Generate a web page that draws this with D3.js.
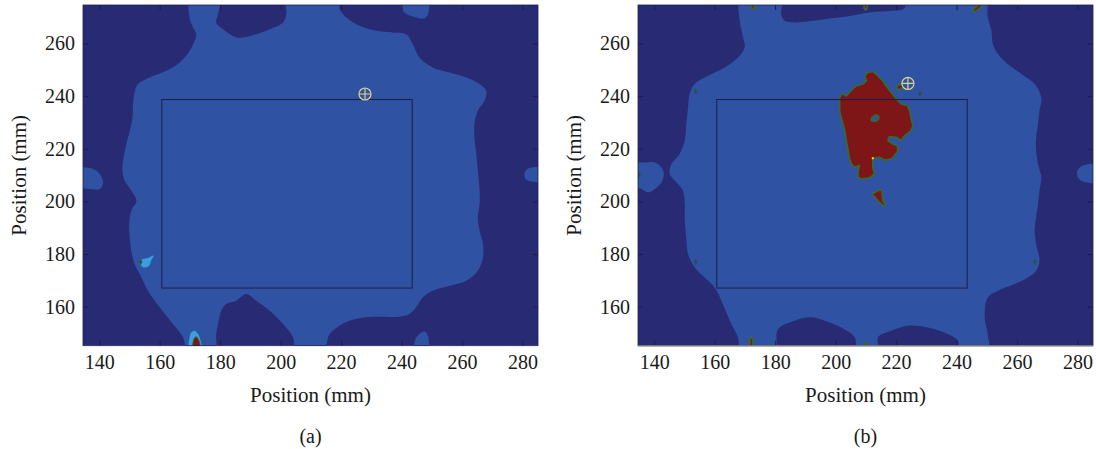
<!DOCTYPE html>
<html>
<head>
<meta charset="utf-8">
<script src="https://cdn.jsdelivr.net/npm/d3@7"></script>
<style>
  body { margin: 0; background: #fff; }
  svg { display: block; }
  text { font-family: "Liberation Serif", "DejaVu Serif", serif; fill: #1a1a1a; }
</style>
</head>
<body>
<svg id="chart" width="1096" height="449"></svg>
<script>
// axis limits and ticks (mm)
const xDomain = [134.65, 285.1];
const yDomain = [145.2, 274.6];
const xTicks = [140, 160, 180, 200, 220, 240, 260, 280];
const yTicks = [160, 180, 200, 220, 240, 260];

// measurement window drawn on both maps
const windowBox = [[160.7, 167.1], [243.5, 238.7]];

// ---- panel (a) contours ----
const blueA = [
  [170.1, 277], [169.9, 269.9], [171.0, 266.1], [172.1, 263.5], [169.9, 257.2], [166.6, 252.8],
  [162.2, 249.6], [156.7, 247.1], [152.8, 244.6], [151.7, 241.4], [151.2, 237.0], [151.0, 231.9],
  [150.1, 226.8], [149.0, 221.8], [147.9, 215.4], [147.7, 211.6], [148.4, 207.9], [150.6, 204.1],
  [152.3, 200.3], [150.6, 196.5], [149.9, 191.4], [150.1, 186.3], [150.6, 181.3], [151.7, 176.2],
  [153.4, 172.4], [156.1, 166.1], [160.0, 159.8], [164.4, 153.4], [167.7, 148.4], [169.4, 143],
  [178.2, 143], [178.7, 149.6], [179.3, 153.4], [180.4, 158.5], [182.0, 161.0], [185.3, 162.3],
  [188.6, 164.8], [191.9, 162.3], [196.4, 158.5], [200.8, 153.4], [204.1, 148.4], [205.2, 143],
  [214.0, 143], [216.2, 149.6], [219.5, 152.8], [222.8, 154.7], [228.3, 156.0], [233.8, 156.2],
  [239.3, 156.2], [242.6, 157.2], [244.8, 159.8], [247.0, 163.5], [250.3, 166.1], [255.9, 168.0],
  [261.4, 169.9], [265.2, 173.7], [266.9, 178.7], [266.9, 183.8], [265.8, 188.9], [265.2, 193.9],
  [265.8, 199.0], [265.8, 204.1], [265.2, 211.6], [264.7, 218.0], [264.1, 224.3], [264.1, 229.4],
  [265.2, 234.4], [267.4, 238.2], [268.0, 242.0], [265.8, 244.6], [261.4, 247.1], [255.9, 249.0],
  [250.3, 250.9], [245.9, 254.7], [243.7, 259.7], [241.5, 263.5], [237.1, 264.2], [231.6, 264.8],
  [226.1, 266.7], [221.7, 269.9], [219.5, 273.0], [218.9, 277], [202.1, 277], [201.9, 271.1],
  [200.8, 268.0], [196.4, 265.4], [191.9, 263.5], [187.5, 262.3], [185.3, 262.3], [180.9, 265.4],
  [178.7, 268.0], [179.3, 271.1], [179.8, 277]
];
const blueIslandsA = [
  [[240.2, 277], [240.4, 272.4], [242.1, 270.9], [244.8, 269.9], [247.6, 269.6], [248.7, 271.1], [248.7, 277]],
  [[132, 212.3], [138.0, 212.3], [140.2, 210.4], [141.3, 207.2], [140.2, 204.7], [137.4, 204.7], [132, 206.0]],
  [[288, 212.3], [282.3, 212.7], [280.7, 211.0], [281.0, 208.5], [282.9, 207.6], [288, 207.9]],
  [[244.3, 143], [244.6, 147.7], [245.9, 149.6], [247.6, 150.6], [248.7, 149.0], [249.0, 146.4], [248.7, 143]]
];
const cyanA = [
  [[153.2, 177.2], [154.5, 178.1], [156.1, 178.5], [158.0, 179.4], [157.2, 177.5], [156.5, 175.6], [155.0, 174.9], [153.9, 175.6]],
  [[169.9, 143], [169.9, 148.4], [170.5, 150.3], [171.6, 150.9], [172.7, 149.6], [173.4, 147.7], [173.9, 143]]
];
const redA = [
  [[171.2, 143], [171.3, 147.7], [172.1, 148.6], [173.0, 147.1], [173.4, 143]]
];
const specksA = [[153.7, 177.0]];
const markerA = [227.9, 240.8];

// ---- panel (b) contours ----
const blueB = [
  [168.6, 277], [168.3, 268.6], [169.4, 262.3], [169.9, 258.5], [167.7, 254.7], [163.3, 250.9],
  [157.8, 247.7], [153.4, 244.6], [151.7, 240.8], [151.2, 235.7], [150.6, 229.4], [150.1, 223.1],
  [148.4, 218.0], [145.7, 214.2], [145.1, 210.4], [146.8, 207.9], [149.5, 204.1], [150.1, 199.0],
  [150.1, 192.7], [150.6, 186.3], [151.2, 180.0], [153.4, 174.9], [156.7, 171.1], [160.0, 167.3],
  [162.7, 161.0], [165.5, 153.4], [167.7, 148.4], [168.8, 143], [179.8, 143], [180.9, 151.4],
  [186.4, 154.7], [191.9, 156.0], [196.4, 154.7], [203.0, 151.4], [206.3, 148.4], [207.4, 143],
  [214.0, 143], [214.0, 148.4], [218.4, 150.9], [223.9, 152.8], [230.5, 152.1], [237.1, 149.6],
  [240.4, 147.1], [241.0, 143], [250.3, 143], [250.3, 149.6], [249.3, 156.0], [250.3, 163.5],
  [253.7, 166.1], [259.2, 168.6], [263.6, 171.1], [266.3, 173.7], [267.4, 177.5], [266.3, 183.8],
  [265.8, 188.9], [266.3, 193.9], [266.9, 199.0], [267.4, 204.1], [268.0, 209.1], [266.9, 214.2],
  [266.3, 219.2], [266.3, 224.3], [266.9, 229.4], [267.4, 234.4], [268.0, 239.5], [265.8, 244.6],
  [261.4, 248.4], [257.0, 252.1], [253.7, 256.0], [252.0, 259.7], [251.5, 264.8], [250.3, 269.9],
  [249.3, 277], [223.4, 277], [222.8, 273.4], [218.4, 272.4], [211.8, 271.8], [205.2, 270.5],
  [196.4, 269.2], [186.4, 268.0], [183.1, 268.6], [182.0, 271.1], [182.0, 277]
];
const blueIslandsB = [
  [[132, 214.2], [136.9, 214.8], [140.2, 214.8], [142.4, 212.9], [143.2, 210.4], [142.4, 207.2],
   [140.2, 204.7], [138.0, 203.4], [135.8, 204.7], [132, 206.6]],
  [[288, 213.6], [281.8, 213.6], [279.9, 211.6], [280.1, 209.1], [281.8, 207.6], [288, 207.6]]
];
const redB = [
  [[210.7, 249.0], [212.3, 249.4], [214.0, 247.7], [215.6, 245.8], [216.7, 243.9], [218.4, 241.4],
   [220.1, 238.9], [221.7, 237.0], [223.9, 236.3], [224.5, 234.4], [225.0, 231.3], [225.6, 228.7],
   [224.8, 226.8], [222.8, 224.9], [221.7, 223.1], [220.1, 224.3], [217.8, 224.6], [217.3, 223.1],
   [218.9, 221.8], [220.4, 221.2], [220.6, 219.2], [219.5, 217.3], [218.4, 216.1], [216.2, 215.7],
   [214.5, 216.7], [212.9, 216.4], [212.3, 216.1], [212.3, 212.9], [212.9, 210.4], [211.2, 208.9],
   [208.5, 208.5], [207.4, 209.1], [207.4, 211.6], [207.9, 213.6], [206.3, 212.9], [205.2, 214.2],
   [204.6, 216.1], [204.1, 219.2], [203.5, 223.1], [203.0, 226.8], [202.1, 230.6], [201.3, 234.4],
   [201.3, 239.5], [202.1, 241.0], [203.5, 240.1], [205.2, 242.3], [206.8, 243.9], [209.0, 244.6],
   [210.1, 245.8], [209.6, 247.7]],
  [[212.1, 202.8], [214.5, 204.4], [215.3, 204.1], [215.6, 200.3], [216.4, 199.0], [216.0, 198.1],
   [214.5, 199.6], [212.9, 201.6]],
  [[220.1, 243.5], [221.2, 244.6], [222.3, 243.9], [221.9, 242.7], [220.6, 242.4]],
  [[172.3, 277], [172.2, 273.3], [172.7, 272.6], [173.2, 273.3], [173.1, 277]],
  [[209.5, 277], [209.4, 273.4], [209.9, 272.7], [210.4, 273.4], [210.3, 277]],
  [[245.2, 272.6], [245.8, 271.9], [247.3, 273.0], [248.9, 274.8], [248.3, 275.4], [246.6, 274.1]],
  [[171.6, 143], [171.6, 147.6], [172.1, 148.6], [172.7, 147.6], [172.7, 143]],
  [[209.4, 143], [209.5, 145.8], [209.9, 146.4], [210.3, 145.8], [210.4, 143]]
];
const holesB = [
  [[211.8, 230.8], [212.3, 232.1], [213.8, 232.7], [214.3, 231.8], [213.4, 230.6]]
];
const specksB = [[153.7, 241.8], [153.7, 177.1], [265.9, 177.1], [227.9, 241.0], [135.0, 210.1]];
const hotB = [[212.3, 216.4]];
const markerB = [223.9, 244.8];

const colors = {
  navy: "#282a73",
  blue: "#3052a2",
  cyan: "#3a9fdc",
  red: "#7e1517",
  edge: "#35693a",
  speck: "#2d4f4a",
  marker: "#dcd28e"
};

const svg = d3.select("#chart");
const plotTop = 5, plotBottom = 345.7, plotW = 455;
const serif = '"Liberation Serif", "DejaVu Serif", serif';

const panels = [
  { id: "a", left: 83, label: "(a)", blue: blueA, islands: blueIslandsA, cyan: cyanA, red: redA,
    holes: [], specks: specksA, hot: [], marker: markerA, bottomLine: false },
  { id: "b", left: 638, label: "(b)", blue: blueB, islands: blueIslandsB, cyan: [], red: redB,
    holes: holesB, specks: specksB, hot: hotB, marker: markerB, bottomLine: true }
];

panels.forEach((p) => {
  const x = d3.scaleLinear().domain(xDomain).range([p.left, p.left + plotW]);
  const y = d3.scaleLinear().domain(yDomain).range([plotBottom, plotTop]);

  const smooth = d3.line().x((d) => x(d[0])).y((d) => y(d[1])).curve(d3.curveCatmullRomClosed.alpha(0.5));
  const jagged = d3.line().x((d) => x(d[0])).y((d) => y(d[1])).curve(d3.curveLinearClosed);

  svg.append("clipPath").attr("id", "clip-" + p.id)
    .append("rect")
    .attr("x", p.left).attr("y", plotTop)
    .attr("width", plotW).attr("height", plotBottom - plotTop);

  const g = svg.append("g").attr("clip-path", `url(#clip-${p.id})`);

  // lowest level
  g.append("rect")
    .attr("x", p.left).attr("y", plotTop)
    .attr("width", plotW).attr("height", plotBottom - plotTop)
    .attr("fill", colors.navy);

  // second level
  [p.blue, ...p.islands].forEach((poly) => {
    g.append("path").attr("d", smooth(poly)).attr("fill", colors.blue);
  });

  p.cyan.forEach((poly) => {
    g.append("path").attr("d", smooth(poly)).attr("fill", colors.cyan);
  });

  // top level (a: smooth, b: pixel-ish edges)
  p.red.forEach((poly) => {
    g.append("path")
      .attr("d", p.id === "a" ? smooth(poly) : jagged(poly))
      .attr("fill", colors.red)
      .attr("stroke", colors.edge)
      .attr("stroke-width", p.id === "a" ? 1 : 1.8)
      .attr("stroke-linejoin", "round");
  });

  p.holes.forEach((poly) => {
    g.append("path").attr("d", smooth(poly))
      .attr("fill", colors.blue)
      .attr("stroke", colors.edge)
      .attr("stroke-width", 1.8);
  });

  g.selectAll(".speck")
    .data(p.specks)
    .enter()
    .append("path")
    .attr("class", "speck")
    .attr("d", d3.symbol().type(d3.symbolDiamond).size(12))
    .attr("transform", (d) => `translate(${x(d[0])},${y(d[1])})`)
    .attr("fill", colors.speck);

  g.selectAll(".hot")
    .data(p.hot)
    .enter()
    .append("rect")
    .attr("x", (d) => x(d[0]) - 1)
    .attr("y", (d) => y(d[1]) - 1)
    .attr("width", 2).attr("height", 2)
    .attr("fill", "#f0e020");

  // measurement window
  g.append("rect")
    .attr("x", x(windowBox[0][0]))
    .attr("y", y(windowBox[1][1]))
    .attr("width", x(windowBox[1][0]) - x(windowBox[0][0]))
    .attr("height", y(windowBox[0][1]) - y(windowBox[1][1]))
    .attr("fill", "none")
    .attr("stroke", "#1b1f45")
    .attr("stroke-width", 1);

  // crosshair marker
  const mx = x(p.marker[0]), my = y(p.marker[1]);
  const mk = g.append("g").attr("stroke", colors.marker).attr("stroke-width", 1.2).attr("fill", "none");
  mk.append("circle").attr("cx", mx).attr("cy", my).attr("r", 6);
  mk.append("line").attr("x1", mx - 6).attr("x2", mx + 6).attr("y1", my).attr("y2", my);
  mk.append("line").attr("x1", mx).attr("x2", mx).attr("y1", my - 6).attr("y2", my + 6);

  // axes, ticks inward on all four sides
  const tickColor = "#1c1e48";
  const styleAxis = (ax) => {
    ax.attr("font-family", serif);
    ax.select(".domain").remove();
    ax.selectAll(".tick line").attr("stroke", tickColor);
    ax.selectAll("text").style("font-size", "20px").attr("fill", "#1a1a1a")
      .style("font-family", serif);
  };

  svg.append("g").attr("transform", `translate(0,${plotBottom})`)
    .call(d3.axisBottom(x).tickValues(xTicks).tickSize(-5).tickPadding(9))
    .call(styleAxis);
  svg.append("g").attr("transform", `translate(0,${plotTop})`)
    .call(d3.axisTop(x).tickValues(xTicks).tickSize(-5).tickFormat(""))
    .call(styleAxis);
  svg.append("g").attr("transform", `translate(${p.left},0)`)
    .call(d3.axisLeft(y).tickValues(yTicks).tickSize(-5).tickPadding(8))
    .call(styleAxis);
  svg.append("g").attr("transform", `translate(${p.left + plotW},0)`)
    .call(d3.axisRight(y).tickValues(yTicks).tickSize(-5).tickFormat(""))
    .call(styleAxis);

  // thin frame
  svg.append("rect")
    .attr("x", p.left).attr("y", plotTop)
    .attr("width", plotW).attr("height", plotBottom - plotTop)
    .attr("fill", "none").attr("stroke", "#20224f").attr("stroke-width", 0.8);
  if (p.bottomLine) {
    svg.append("line")
      .attr("x1", p.left).attr("x2", p.left + plotW)
      .attr("y1", plotBottom).attr("y2", plotBottom)
      .attr("stroke", "#7a7a7a").attr("stroke-width", 1.5);
  }

  // labels
  const cx = p.left + plotW / 2;
  svg.append("text")
    .attr("x", cx).attr("y", 402)
    .attr("text-anchor", "middle")
    .style("font-size", "21px")
    .text("Position (mm)");
  svg.append("text")
    .attr("transform", `translate(${p.left - 57},${(plotTop + plotBottom) / 2}) rotate(-90)`)
    .attr("text-anchor", "middle")
    .style("font-size", "21px")
    .text("Position (mm)");
  svg.append("text")
    .attr("x", cx).attr("y", 443)
    .attr("text-anchor", "middle")
    .style("font-size", "20px")
    .text(p.label);
});
</script>
</body>
</html>
